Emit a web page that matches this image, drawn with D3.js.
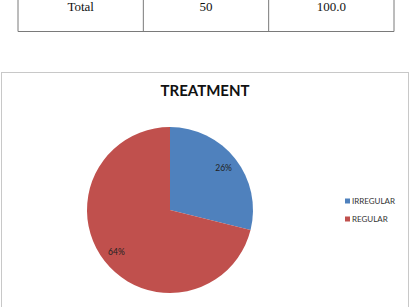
<!DOCTYPE html>
<html>
<head>
<meta charset="utf-8">
<script src="https://cdn.jsdelivr.net/npm/d3@7"></script>
<style>
  body { margin: 0; background: #fff; }
  svg { display: block; }
</style>
</head>
<body>
<svg id="chart" width="412" height="307"></svg>
<script>
// table row above the chart
var tableCells = ["Total", "50", "100.0"];

// pie data
var categories = ["IRREGULAR", "REGULAR"];
var values = [26, 64];
var labels = ["26%", "64%"];
var colors = ["#4f81bd", "#c0504d"];

var svg = d3.select("#chart");

// table part (only bottom row visible)
var colX = d3.scalePoint().domain(d3.range(4)).range([18, 394]);
var tbl = svg.append("g");
tbl.selectAll("line.v")
    .data(d3.range(4))
    .enter().append("line")
    .attr("x1", function(d){ return colX(d); })
    .attr("x2", function(d){ return colX(d); })
    .attr("y1", 0).attr("y2", 31.5)
    .attr("stroke", "#7a7a7a").attr("stroke-width", 1);
tbl.append("line")
    .attr("x1", 18).attr("x2", 394).attr("y1", 31.5).attr("y2", 31.5)
    .attr("stroke", "#7a7a7a").attr("stroke-width", 1);
tbl.selectAll("text")
    .data(tableCells)
    .enter().append("text")
    .attr("x", function(d, i){ return (colX(i) + colX(i + 1)) / 2; })
    .attr("y", 11)
    .attr("text-anchor", "middle")
    .attr("font-family", "Liberation Serif, Times New Roman, serif")
    .attr("font-size", 13)
    .attr("fill", "#111")
    .text(function(d){ return d; });

// chart frame
svg.append("rect")
    .attr("x", 1.5).attr("y", 72.5)
    .attr("width", 407).attr("height", 250)
    .attr("fill", "#fff")
    .attr("stroke", "#c8c8c8");

svg.append("text")
    .attr("x", 205).attr("y", 96)
    .attr("text-anchor", "middle")
    .attr("font-family", "Lato, Open Sans, sans-serif")
    .attr("font-weight", "bold")
    .attr("font-size", 15)
    .attr("fill", "#111")
    .text("TREATMENT");

// pie
var cx = 170, cy = 210, r = 83;
var pie = d3.pie().sort(null)(values);
var arc = d3.arc().innerRadius(0).outerRadius(r);
var labelArc = d3.arc().innerRadius(68).outerRadius(68);

var g = svg.append("g").attr("transform", "translate(" + cx + "," + cy + ")");
g.selectAll("path")
    .data(pie)
    .enter().append("path")
    .attr("d", arc)
    .attr("fill", function(d, i){ return colors[i]; });

g.selectAll("text")
    .data(pie)
    .enter().append("text")
    .attr("transform", function(d){ return "translate(" + labelArc.centroid(d) + ")"; })
    .attr("dy", "0.35em")
    .attr("text-anchor", "middle")
    .attr("font-family", "Lato, Open Sans, sans-serif")
    .attr("font-size", 8.5)
    .attr("fill", "#222")
    .text(function(d, i){ return labels[i]; });

// legend
var legY = d3.scalePoint().domain(categories).range([201, 219]);
var leg = svg.append("g").selectAll("g")
    .data(categories)
    .enter().append("g")
    .attr("transform", function(d){ return "translate(345," + legY(d) + ")"; });
leg.append("rect")
    .attr("x", 0).attr("y", -2.5)
    .attr("width", 5).attr("height", 5)
    .attr("fill", function(d, i){ return colors[i]; });
leg.append("text")
    .attr("x", 7).attr("y", 0)
    .attr("dy", "0.35em")
    .attr("font-family", "Lato, Open Sans, sans-serif")
    .attr("font-size", 8)
    .attr("fill", "#333")
    .text(function(d){ return d; });
</script>
</body>
</html>
